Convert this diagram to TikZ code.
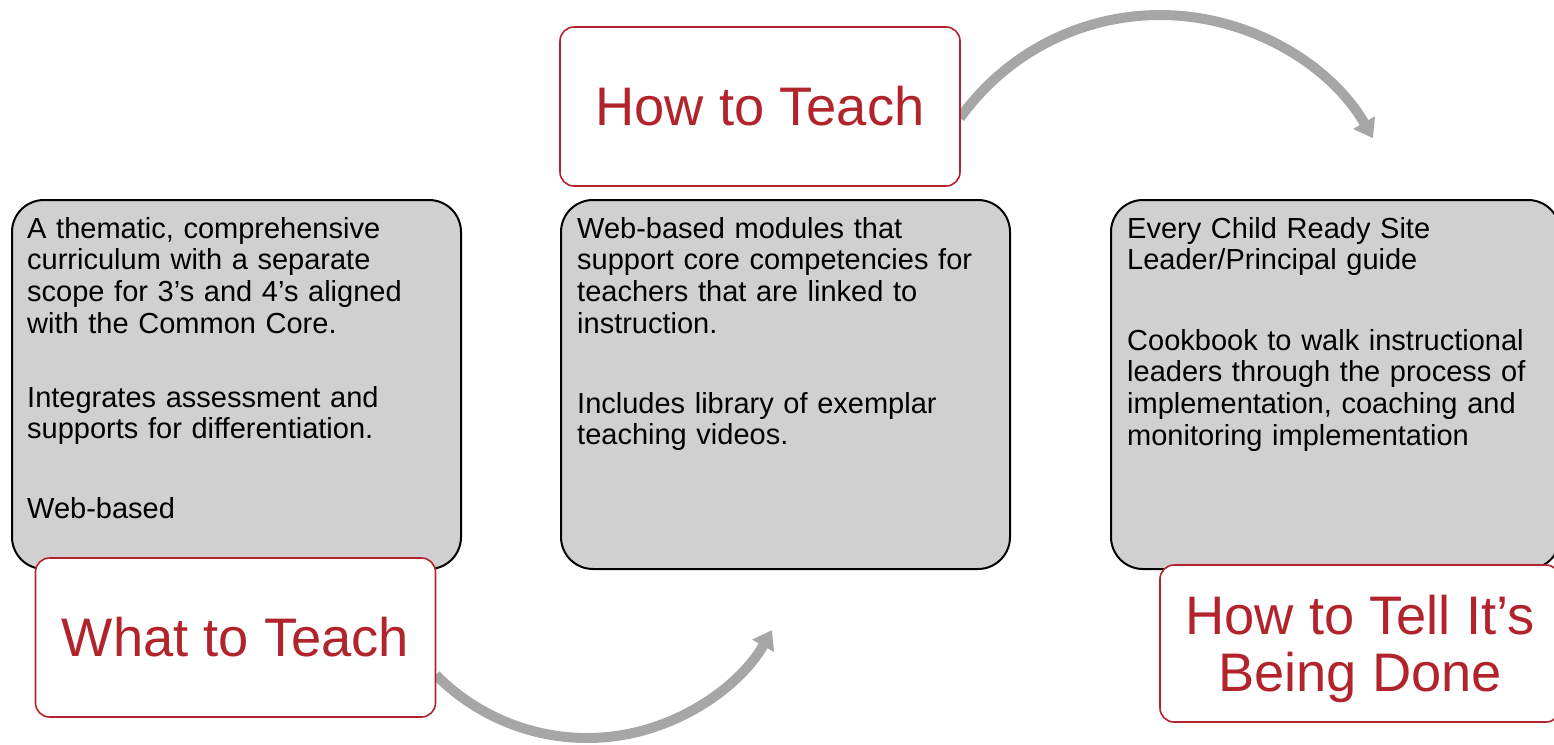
\documentclass[tikz,border=0pt]{standalone}
\usepackage{fontspec}
\setmainfont{Liberation Sans}
\usetikzlibrary{arrows.meta,calc}
\definecolor{boxgray}{RGB}{208,208,208}
\definecolor{labred}{RGB}{178,36,44}
\definecolor{arrgray}{RGB}{166,166,166}
\begin{document}
\begin{tikzpicture}[x=1pt,y=-1pt,
  infobox/.style={draw=black, line width=2pt, fill=boxgray, rounded corners=32pt, minimum width=449pt, minimum height=369pt, anchor=north west, inner sep=0pt},
  labelbox/.style={draw=labred, line width=1.6pt, fill=white, rounded corners=14pt, text=labred, font=\fontsize{54.3}{57}\selectfont, align=center, minimum width=400pt, minimum height=159pt, inner sep=0pt},
  bodytext/.style={anchor=base west, text width=440pt, inner sep=0pt, align=left, font=\fontsize{29}{31.7}\selectfont},
  flow/.style={draw=arrgray, line width=10pt, -{Triangle[width=24pt,length=18pt]}}]
\useasboundingbox (0,0) rectangle (1554,744);

% content boxes
\node[infobox] (b1) at (11,199) {};
\node[infobox] (b2) at (560,199) {};
\node[infobox] (b3) at (1110,199) {};

% body texts
\node[bodytext] (t1a) at (27,238) {A thematic, comprehensive\\curriculum with a separate\\scope for 3’s and 4’s aligned\\with the Common Core.};
\node[bodytext] (t1b) at (27,407) {Integrates assessment and\\supports for differentiation.};
\node[bodytext] (t1c) at (27,518) {Web-based};

\node[bodytext] (t2a) at (577,238) {Web-based modules that\\support core competencies for\\teachers that are linked to\\instruction.};
\node[bodytext] (t2b) at (577,413) {Includes library of exemplar\\teaching videos.};

\node[bodytext] (t3a) at (1127,238) {Every Child Ready Site\\Leader/Principal guide};
\node[bodytext] (t3b) at (1127,350) {Cookbook to walk instructional\\leaders through the process of\\implementation, coaching and\\monitoring implementation};

% flow arrows
\coordinate (c1) at (587,525.5);
\coordinate (c2) at (1160,260.7);
\draw[flow] ($(c1)+(135.3:212.5)$) arc[start angle=135.3, end angle=29.5, radius=212.5];
\draw[flow] ($(c2)+(215.5:245.7)$) arc[start angle=215.5, end angle=330.1, radius=245.7];

% label boxes
\node[labelbox] (l1) at (235.5,637.5) {What to Teach};
\node[labelbox] (l2) at (760,106.5) {How to Teach};
\node[labelbox, minimum height=157pt, text depth=0pt] (l3) at (1360,643.5) {How to Tell It’s\\Being Done};
\end{tikzpicture}
\end{document}
